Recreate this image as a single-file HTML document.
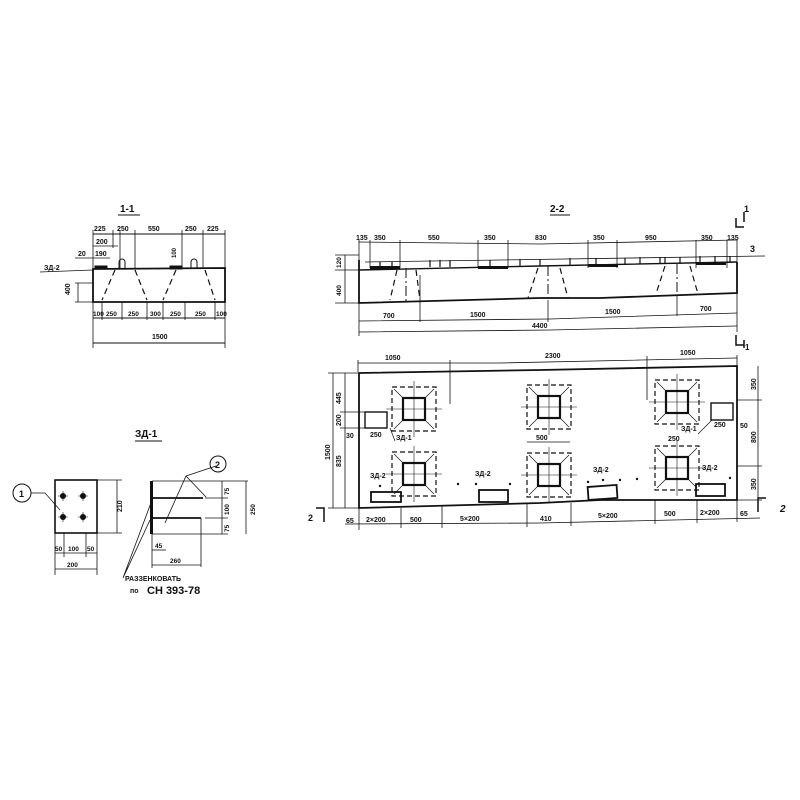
<!DOCTYPE html>
<html><head><meta charset="utf-8"><style>
html,body{margin:0;padding:0;background:#fff}
svg{display:block}
text{font-family:"Liberation Sans",sans-serif;font-weight:bold;fill:#111}
</style></head><body>
<svg width="800" height="800" viewBox="0 0 800 800" xmlns="http://www.w3.org/2000/svg" stroke="#111" fill="none" stroke-width="1">
<defs>
<g id="sq">
<rect x="-22" y="-22" width="44" height="44" stroke-dasharray="5,3" stroke-width="1.2"/>
<rect x="-11" y="-11" width="22" height="22" stroke-width="2.2"/>
<line x1="-28" y1="0" x2="28" y2="0" stroke-width="0.6"/><line x1="0" y1="-28" x2="0" y2="28" stroke-width="0.6"/>
<path d="M-20 -20 L-12 -12 M20 -20 L12 -12 M-20 20 L-12 12 M20 20 L12 12" stroke-width="0.7"/>
</g>
</defs>
<!-- ===== 1-1 ===== -->
<text x="120" y="212" font-size="10" stroke="none">1-1</text>
<line x1="118" y1="215" x2="140" y2="215"/>
<line x1="93" y1="234" x2="225" y2="234"/>
<g stroke-width="0.8">
<line x1="93" y1="230" x2="93" y2="348"/><line x1="113" y1="230" x2="113" y2="248"/><line x1="120" y1="230" x2="120" y2="268"/>
<line x1="135" y1="230" x2="135" y2="268"/><line x1="182" y1="230" x2="182" y2="268"/><line x1="203" y1="230" x2="203" y2="268"/><line x1="225" y1="230" x2="225" y2="348"/>
<line x1="93" y1="246" x2="118" y2="246"/><line x1="75" y1="258" x2="110" y2="258"/>
<line x1="75" y1="283" x2="93" y2="283"/><line x1="75" y1="302" x2="93" y2="302"/><line x1="78" y1="283" x2="78" y2="302"/>
<line x1="40" y1="272" x2="93" y2="270"/>
</g>
<text x="94" y="231" font-size="7" stroke="none">225</text><text x="117" y="231" font-size="7" stroke="none">250</text>
<text x="148" y="231" font-size="7" stroke="none">550</text><text x="185" y="231" font-size="7" stroke="none">250</text>
<text x="207" y="231" font-size="7" stroke="none">225</text><text x="96" y="244" font-size="7" stroke="none">200</text>
<text x="78" y="256" font-size="7" stroke="none">20</text><text x="95" y="256" font-size="7" stroke="none">190</text>
<text x="44" y="270" font-size="7" stroke="none">ЗД-2</text>
<text x="70" y="295" font-size="7" stroke="none" transform="rotate(-90 70 295)">400</text>
<text x="176" y="258" font-size="6" stroke="none" transform="rotate(-90 176 258)">100</text>
<path d="M93 269 L225 268 L225 302 L93 302 Z" stroke-width="1.8"/>
<rect x="95" y="266" width="12" height="3" fill="#111"/><rect x="170" y="266" width="12" height="3" fill="#111"/>
<path d="M119 268 v-6 a3 3 0 0 1 6 0 v6 M191 268 v-6 a3 3 0 0 1 6 0 v6"/>
<g stroke-dasharray="6,4" stroke-width="1.2"><line x1="115" y1="270" x2="102" y2="300"/><line x1="135" y1="270" x2="147" y2="300"/><line x1="176" y1="270" x2="163" y2="300"/><line x1="205" y1="270" x2="215" y2="300"/></g>
<line x1="93" y1="318" x2="225" y2="318"/>
<g stroke-width="0.8"><line x1="102" y1="302" x2="102" y2="320"/><line x1="122" y1="302" x2="122" y2="320"/><line x1="147" y1="302" x2="147" y2="320"/><line x1="163" y1="302" x2="163" y2="320"/><line x1="185" y1="302" x2="185" y2="320"/><line x1="215" y1="302" x2="215" y2="320"/></g>
<g font-size="6.5" stroke="none"><text x="93" y="316">100</text><text x="106" y="316">250</text><text x="128" y="316">250</text><text x="150" y="316">300</text><text x="170" y="316">250</text><text x="195" y="316">250</text><text x="216" y="316">100</text></g>
<line x1="93" y1="343" x2="225" y2="343"/><text x="152" y="339" font-size="7" stroke="none">1500</text>

<!-- ===== 2-2 ===== -->
<text x="550" y="212" font-size="10" stroke="none">2-2</text><line x1="550" y1="215" x2="570" y2="215"/>
<path d="M736 218 v9 h8 M744 212 v10" stroke-width="1.5"/><text x="744" y="212" font-size="9" stroke="none">1</text>
<path d="M359 242 L540 244 L737 240" stroke-width="0.8"/>
<g stroke-width="0.8"><line x1="359" y1="240" x2="359" y2="268"/><line x1="370" y1="240" x2="370" y2="268"/><line x1="400" y1="240" x2="400" y2="268"/><line x1="478" y1="240" x2="478" y2="268"/><line x1="508" y1="240" x2="508" y2="268"/><line x1="588" y1="240" x2="588" y2="268"/><line x1="617" y1="240" x2="617" y2="268"/><line x1="696" y1="240" x2="696" y2="268"/><line x1="727" y1="240" x2="727" y2="268"/><line x1="737" y1="240" x2="737" y2="268"/></g>
<g font-size="7" stroke="none"><text x="356" y="240">135</text><text x="374" y="240">350</text><text x="428" y="240">550</text><text x="484" y="240">350</text><text x="535" y="240">830</text><text x="593" y="240">350</text><text x="645" y="240">950</text><text x="701" y="240">350</text><text x="727" y="240">135</text></g>
<text x="750" y="252" font-size="9" stroke="none">3</text>
<line x1="365" y1="262" x2="765" y2="256" stroke-width="0.8"/>
<path d="M359 270 L540 266 L737 262" stroke-width="1.4"/>
<path d="M359 260 L359 303 L540 298 L600 298 L737 293 L737 262" stroke-width="1.8"/>
<g fill="#111" stroke="none"><rect x="370" y="266" width="30" height="3"/><rect x="478" y="266" width="30" height="3"/><rect x="588" y="264" width="30" height="3"/><rect x="696" y="262" width="30" height="3"/></g>
<g stroke-width="1.2"><path d="M380 262v7M392 262v7M430 260v7M440 260v7M450 260v7M490 260v7M520 259v7M540 259v7M570 258v7M596 258v7M625 258v7M640 257v7M660 257v7M665 257v7M680 257v7M700 256v7M715 256v7M730 256v7"/></g>
<g stroke-dasharray="6,4" stroke-width="1.2"><line x1="397" y1="270" x2="390" y2="300"/><line x1="416" y1="270" x2="420" y2="300"/><line x1="538" y1="268" x2="528" y2="298"/><line x1="560" y1="268" x2="568" y2="298"/><line x1="665" y1="266" x2="656" y2="294"/><line x1="690" y1="266" x2="698" y2="294"/></g>
<g stroke-dasharray="10,3,2,3"><line x1="406" y1="268" x2="406" y2="302"/><line x1="548" y1="266" x2="548" y2="298"/><line x1="677" y1="264" x2="677" y2="294"/></g>
<g stroke-width="0.8"><line x1="335" y1="255" x2="359" y2="255"/><line x1="335" y1="270" x2="359" y2="270"/><line x1="335" y1="303" x2="359" y2="303"/><line x1="345" y1="255" x2="345" y2="303"/></g>
<text x="341" y="268" font-size="6.5" stroke="none" transform="rotate(-90 341 268)">120</text>
<text x="341" y="296" font-size="6.5" stroke="none" transform="rotate(-90 341 296)">400</text>
<path d="M359 321 L550 319 L737 313" stroke-width="0.8"/>
<path d="M359 332 L550 330 L737 326" stroke-width="0.8"/>
<g stroke-width="0.8"><line x1="359" y1="303" x2="359" y2="336"/><line x1="420" y1="275" x2="420" y2="322"/><line x1="548" y1="300" x2="548" y2="322"/><line x1="677" y1="296" x2="677" y2="316"/><line x1="737" y1="293" x2="737" y2="332"/></g>
<g font-size="7" stroke="none"><text x="383" y="318">700</text><text x="470" y="317">1500</text><text x="605" y="314">1500</text><text x="700" y="311">700</text><text x="532" y="328">4400</text></g>
<path d="M736 335 v10 h8 M744 340 v8" stroke-width="1.5"/><text x="745" y="350" font-size="8" stroke="none">1</text>

<!-- ===== plan ===== -->
<path d="M358 363 L500 363 L737 358" stroke-width="0.8"/>
<g font-size="7" stroke="none"><text x="385" y="360">1050</text><text x="545" y="358">2300</text><text x="680" y="355">1050</text></g>
<g stroke-width="0.8"><line x1="358" y1="360" x2="358" y2="372"/><line x1="450" y1="360" x2="450" y2="404"/><line x1="647" y1="356" x2="647" y2="400"/><line x1="737" y1="355" x2="737" y2="368"/></g>
<path d="M359 373 L540 370 L737 366 L737 500 L600 500 L540 503 L359 508 Z" stroke-width="1.8"/>
<use href="#sq" transform="translate(414 409)"/>
<use href="#sq" transform="translate(549 407)"/>
<use href="#sq" transform="translate(677 402)"/>
<use href="#sq" transform="translate(414 474)"/>
<use href="#sq" transform="translate(549 475)"/>
<use href="#sq" transform="translate(677 468)"/>
<rect x="365" y="412" width="22" height="16" stroke-width="1.4"/>
<rect x="711" y="403" width="22" height="17" stroke-width="1.4"/>
<g stroke-width="1.8"><rect x="371" y="492" width="30" height="10"/><rect x="479" y="490" width="29" height="12"/><rect x="588" y="486" width="29" height="13" transform="rotate(-4 602 492)"/><rect x="696" y="484" width="29" height="12"/></g>
<g fill="#111" stroke="none"><circle cx="380" cy="486" r="1.2"/><circle cx="458" cy="484" r="1.2"/><circle cx="476" cy="484" r="1.2"/><circle cx="510" cy="484" r="1.2"/><circle cx="588" cy="482" r="1.2"/><circle cx="603" cy="480" r="1.2"/><circle cx="620" cy="480" r="1.2"/><circle cx="637" cy="479" r="1.2"/><circle cx="730" cy="478" r="1.2"/></g>
<g font-size="7" stroke="none"><text x="370" y="437">250</text><text x="396" y="440">ЗД-1</text><text x="536" y="440">500</text><text x="668" y="441">250</text><text x="681" y="431">ЗД-1</text><text x="714" y="427">250</text><text x="740" y="428">50</text>
<text x="370" y="478">ЗД-2</text><text x="475" y="476">ЗД-2</text><text x="593" y="472">ЗД-2</text><text x="702" y="470">ЗД-2</text></g>
<g stroke-width="0.7"><line x1="527" y1="442" x2="570" y2="442"/><line x1="395" y1="441" x2="390" y2="428"/><line x1="698" y1="434" x2="712" y2="420"/></g>
<g stroke-width="0.8"><line x1="333" y1="373" x2="333" y2="508"/><line x1="345" y1="373" x2="345" y2="508"/><line x1="328" y1="373" x2="359" y2="373"/><line x1="340" y1="412" x2="365" y2="412"/><line x1="340" y1="428" x2="365" y2="428"/><line x1="328" y1="508" x2="359" y2="508"/></g>
<g font-size="7" stroke="none"><text x="341" y="404" transform="rotate(-90 341 404)">445</text><text x="341" y="426" transform="rotate(-90 341 426)">200</text><text x="341" y="467" transform="rotate(-90 341 467)">835</text><text x="330" y="460" transform="rotate(-90 330 460)">1500</text><text x="346" y="438">30</text></g>
<g stroke-width="0.8"><line x1="758" y1="366" x2="758" y2="500"/><line x1="737" y1="400" x2="762" y2="400"/><line x1="737" y1="466" x2="762" y2="466"/><line x1="737" y1="500" x2="762" y2="500"/></g>
<g font-size="7" stroke="none"><text x="756" y="390" transform="rotate(-90 756 390)">350</text><text x="756" y="443" transform="rotate(-90 756 443)">800</text><text x="756" y="490" transform="rotate(-90 756 490)">350</text></g>
<path d="M345 524 L540 523 L760 518" stroke-width="0.8"/>
<g stroke-width="0.8"><line x1="359" y1="508" x2="359" y2="530"/><line x1="401" y1="508" x2="401" y2="528"/><line x1="442" y1="505" x2="442" y2="528"/><line x1="527" y1="503" x2="527" y2="527"/><line x1="571" y1="503" x2="571" y2="526"/><line x1="655" y1="500" x2="655" y2="524"/><line x1="697" y1="500" x2="697" y2="523"/><line x1="737" y1="500" x2="737" y2="522"/></g>
<g font-size="7" stroke="none"><text x="346" y="523">65</text><text x="366" y="522">2×200</text><text x="410" y="522">500</text><text x="460" y="521">5×200</text><text x="540" y="521">410</text><text x="598" y="518">5×200</text><text x="664" y="516">500</text><text x="700" y="515">2×200</text><text x="740" y="516">65</text></g>
<path d="M316 508 h8 v14" stroke-width="1.5"/><text x="308" y="521" font-size="9" stroke="none">2</text>
<path d="M766 498 h-8 v14" stroke-width="1.5"/><text x="780" y="512" font-size="10" stroke="none" font-style="italic">2</text>

<!-- ===== ЗД-1 ===== -->
<text x="135" y="437" font-size="10" stroke="none">ЗД-1</text><line x1="135" y1="441" x2="162" y2="441"/>
<rect x="55" y="480" width="42" height="53" stroke-width="1.6"/>
<g fill="#111" stroke="none"><circle cx="63" cy="496" r="3"/><circle cx="83" cy="496" r="3"/><circle cx="63" cy="517" r="3"/><circle cx="83" cy="517" r="3"/></g>
<g stroke-width="0.6"><path d="M58 496h10M78 496h10M58 517h10M78 517h10M63 491v10M83 491v10M63 512v10M83 512v10"/></g>
<circle cx="22" cy="493" r="9"/><text x="19" y="497" font-size="9" stroke="none">1</text>
<path d="M31 493 H45 L60 510" stroke-width="0.7"/>
<g stroke-width="0.8"><line x1="97" y1="480" x2="122" y2="480"/><line x1="97" y1="533" x2="122" y2="533"/><line x1="117" y1="480" x2="117" y2="533"/>
<line x1="55" y1="533" x2="55" y2="575"/><line x1="97" y1="533" x2="97" y2="575"/><line x1="64" y1="533" x2="64" y2="557"/><line x1="86" y1="533" x2="86" y2="557"/><line x1="55" y1="553" x2="97" y2="553"/><line x1="55" y1="569" x2="97" y2="569"/></g>
<text x="122" y="512" font-size="7" stroke="none" transform="rotate(-90 122 512)">210</text>
<g font-size="6.5" stroke="none"><text x="55" y="551">50</text><text x="68" y="551">100</text><text x="87" y="551">50</text><text x="67" y="567">200</text></g>
<rect x="150" y="481" width="3" height="53" fill="#111" stroke="none"/>
<g stroke-width="1.8"><line x1="152" y1="498" x2="203" y2="498"/><line x1="152" y1="518" x2="201" y2="518"/></g>
<g stroke-width="0.8"><line x1="152" y1="481" x2="248" y2="481"/><line x1="201" y1="518" x2="201" y2="567"/><line x1="152" y1="534" x2="228" y2="534"/><line x1="205" y1="498" x2="228" y2="498"/><line x1="205" y1="518" x2="228" y2="518"/><line x1="222" y1="481" x2="222" y2="534"/><line x1="246" y1="481" x2="246" y2="534"/><line x1="152" y1="534" x2="152" y2="568"/><line x1="152" y1="550" x2="166" y2="550"/><line x1="152" y1="565" x2="201" y2="565"/>
<path d="M186 476 L165 523 M186 476 L206 497 M216 466 L186 476 M150 520 L123 578 M152 500 L123 578"/></g>
<circle cx="218" cy="464" r="8"/><text x="215" y="468" font-size="9" stroke="none">2</text>
<g font-size="6.5" stroke="none"><text x="229" y="495" transform="rotate(-90 229 495)">75</text><text x="229" y="515" transform="rotate(-90 229 515)">100</text><text x="229" y="532" transform="rotate(-90 229 532)">75</text><text x="255" y="515" transform="rotate(-90 255 515)">250</text><text x="155" y="548">45</text><text x="170" y="563">260</text></g>
<text x="125" y="581" font-size="7" stroke="none">РАЗЗЕНКОВАТЬ</text>
<text x="130" y="593" font-size="7" stroke="none">по</text><text x="147" y="594" font-size="11" stroke="none" font-weight="normal">СН 393-78</text>
</svg>
</body></html>
